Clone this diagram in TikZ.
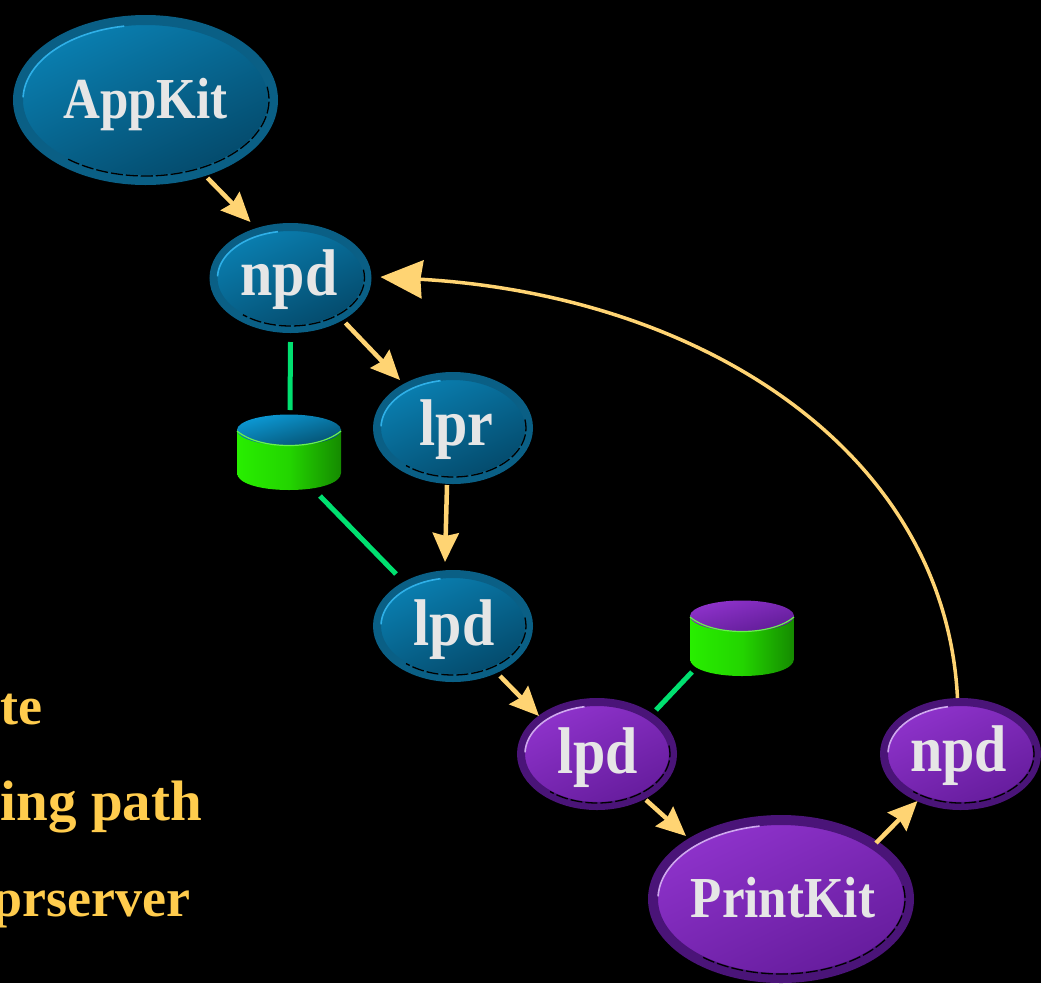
\documentclass[tikz,border=0pt]{standalone}
\usepackage{fontspec}
\usepackage{graphicx}
\usetikzlibrary{shapes.geometric,arrows.meta,calc}
\newfontfamily\lblfont[FakeStretch=0.88]{Liberation Serif Bold}
\newfontfamily\legfont{Liberation Serif Bold}
\definecolor{blueRing}{HTML}{0A5F85}
\definecolor{blueTop}{HTML}{0A80B2}
\definecolor{blueBot}{HTML}{04496A}
\definecolor{blueHi}{HTML}{2FB0E8}
\definecolor{purpleRing}{HTML}{4A1478}
\definecolor{purpleTop}{HTML}{8F33CC}
\definecolor{purpleBot}{HTML}{651C9C}
\definecolor{purpleHi}{HTML}{CFA8EE}
\definecolor{arrowYellow}{HTML}{FFD473}
\definecolor{legendYellow}{HTML}{FFCC4D}
\definecolor{linkGreen}{HTML}{00E070}
\definecolor{labelGrey}{HTML}{E6E6E6}
\definecolor{bodyLight}{HTML}{28EE00}
\definecolor{bodyDark}{HTML}{158A00}
\definecolor{capBlueTop}{HTML}{0C9BD8}
\definecolor{capBlueBot}{HTML}{05506F}
\definecolor{capPurpleTop}{HTML}{8F33CC}
\definecolor{capPurpleBot}{HTML}{601C96}
\tikzset{
  x=1pt,y=-1pt,
  flow/.style={draw=arrowYellow,line width=4.5pt,-{Stealth[length=29pt,width=26pt,inset=3pt,fill=arrowYellow]}},
  flowbig/.style={draw=arrowYellow,line width=3.5pt,-{Stealth[length=42pt,width=38pt,inset=2pt,fill=arrowYellow]}},
  link/.style={draw=linkGreen,line width=5pt},
  legend/.style={text=legendYellow,inner sep=0pt,outer sep=0pt,anchor=base east},
  dbbox/.style={inner sep=0pt,minimum width=104pt,minimum height=76pt,draw=none},
}
% name, palette, cx, cy, rx, ry, text dx, text drop, text
\newcommand{\ball}[9]{%
  \node[ellipse,inner sep=0pt,line width=\ringw pt,draw=#2Ring,top color=#2Top,bottom color=#2Bot,shading angle=25,
    minimum width=2*#5 pt-\ringw pt,minimum height=2*#6 pt-\ringw pt,text=labelGrey] (#1) at (#3,#4)
    {\makebox[0pt][c]{\smash{\hspace*{#7pt}\raisebox{-#8pt}{\lblfont\fontsize{\lblsz}{\lblsz}\selectfont #9}}}};
  \draw[#2Hi,line width=1.6pt] plot[smooth,domain=100:178,samples=24] ({#3+(#5-\ringw)*cos(\x)},{#4-(#6-\ringw)*sin(\x)});
  \draw[black,line width=1.3pt,dash pattern=on 12pt off 3pt] plot[smooth,domain=10:-130,samples=30] ({#3+(#5-\ringw+1)*cos(\x)},{#4-(#6-\ringw+1)*sin(\x)});
}
% name, cx, top cap centre y, cap top colour, cap bottom colour
\newcommand{\drum}[5]{%
  \node[dbbox] (#1) at (#2,#3+22) {};
  \begin{scope}[shift={(#2,#3)}]
    \path[left color=bodyLight,right color=bodyDark,middle color=bodyLight!75!bodyDark]
      (-52,-1) -- (-52,43) .. controls (-52,53) and (-30,60) .. (0,60) .. controls (30,60) and (52,53) .. (52,43) -- (52,-1) -- cycle;
    \path[top color=#4,bottom color=#5,shading angle=15] (0,0) ellipse [x radius=52,y radius=15.5];
    \draw[bodyLight!70!white,line width=1.2pt] (-52,1) .. controls (-40,11) and (-20,15.5) .. (0,15.5) .. controls (20,15.5) and (40,11) .. (52,1);
  \end{scope}
}
\begin{document}
\begin{tikzpicture}
\useasboundingbox (0,0) rectangle (1041,983);
\fill[black] (0,0) rectangle (1041,983);

\def\ringw{10}\def\lblsz{58}
\ball{appkit}{blue}{145.5}{100}{132.5}{85}{0}{18}{AppKit}
\ball{printkit}{purple}{781}{899}{133}{84}{4}{18}{PrintKit}
\def\ringw{8}\def\lblsz{66}
\ball{npdtop}{blue}{290.5}{278}{81}{55}{-3}{17}{npd}
\ball{lpr}{blue}{453}{428}{80}{56}{7}{17}{lpr}
\ball{lpdblue}{blue}{453}{626}{80}{56}{2}{19}{lpd}
\ball{lpdpurple}{purple}{597}{754}{80}{56}{1}{19}{lpd}
\ball{npdright}{purple}{960.5}{754}{80.5}{56}{-4}{17}{npd}

\drum{dbblue}{289}{430}{capBlueTop}{capBlueBot}
\drum{dbpurple}{742}{616}{capPurpleTop}{capPurpleBot}

\draw[flow] ($(appkit.center)+(62,78)$) -- ($(npdtop.center)+(-40,-56)$);
\draw[flow] ($(npdtop.center)+(55,45)$) -- ($(lpr.center)+(-53,-48)$);
\draw[flow] ($(lpr.center)+(-6,57)$) -- ($(lpdblue.center)+(-8,-64)$);
\draw[flow] ($(lpdblue.center)+(47,50)$) -- ($(lpdpurple.center)+(-58,-38)$);
\draw[flow] ($(lpdpurple.center)+(49,46)$) -- ($(printkit.center)+(-95,-63)$);
\draw[flow] ($(printkit.center)+(95,-56)$) -- ($(npdright.center)+(-43,47)$);
\draw[flowbig] ($(npdright.center)+(-3,-56)$) .. controls (945,450) and (700,295) .. ($(npdtop.center)+(90,-1)$);

\draw[link] ($(npdtop.center)+(0,64)$) -- ($(dbblue.center)+(1,-42)$);
\draw[link] ($(dbblue.center)+(31,44)$) -- ($(lpdblue.center)+(-57,-52)$);
\draw[link] ($(dbpurple.center)+(-50,34)$) -- ($(lpdpurple.center)+(59,-44)$);

\node[legend,font=\legfont\fontsize{54}{54}\selectfont] (legendA) at (42,724) {te};
\node[legend,font=\legfont\fontsize{57}{57}\selectfont] (legendB) at (202,820) {ing path};
\node[legend,font=\legfont\fontsize{54}{54}\selectfont] (legendC) at (190,916) {prserver};
\end{tikzpicture}
\end{document}
